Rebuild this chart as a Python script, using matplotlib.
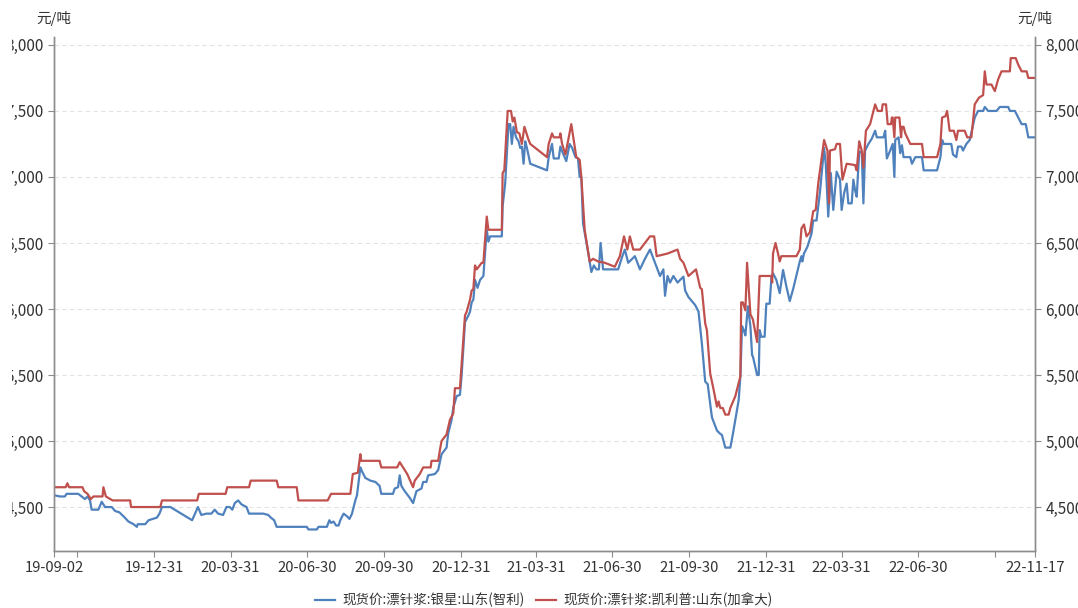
import matplotlib
matplotlib.use('Agg')
import matplotlib.pyplot as plt
import matplotlib.dates as mdates
from matplotlib.patches import Rectangle
from matplotlib.ticker import FuncFormatter
import pandas as pd

# series names
blue_name = '现货价:漂针浆:银星:山东(智利)'
red_name = '现货价:漂针浆:凯利普:山东(加拿大)'

# 银星 (blue), yuan/ton
blue_dates = [
    '2019-09-02', '2019-09-09', '2019-09-15', '2019-09-17', '2019-10-01', '2019-10-05', '2019-10-09', '2019-10-12',
    '2019-10-15', '2019-10-17', '2019-10-25', '2019-10-29', '2019-11-02', '2019-11-10', '2019-11-14', '2019-11-19',
    '2019-11-24', '2019-11-30', '2019-12-06', '2019-12-10', '2019-12-11', '2019-12-20', '2019-12-24', '2020-01-03',
    '2020-01-06', '2020-01-09', '2020-01-19', '2020-02-14', '2020-02-21', '2020-02-25', '2020-03-02', '2020-03-08',
    '2020-03-12', '2020-03-16', '2020-03-22', '2020-03-26', '2020-03-30', '2020-04-02', '2020-04-05', '2020-04-09',
    '2020-04-13', '2020-04-19', '2020-04-22', '2020-05-09', '2020-05-15', '2020-05-18', '2020-05-22', '2020-05-25',
    '2020-06-30', '2020-07-02', '2020-07-12', '2020-07-14', '2020-07-24', '2020-07-27', '2020-07-29', '2020-08-01',
    '2020-08-04', '2020-08-07', '2020-08-09', '2020-08-13', '2020-08-17', '2020-08-20', '2020-08-23', '2020-08-27',
    '2020-08-29', '2020-09-02', '2020-09-04', '2020-09-08', '2020-09-14', '2020-09-20', '2020-09-25', '2020-09-27',
    '2020-10-11', '2020-10-13', '2020-10-17', '2020-10-19', '2020-10-21', '2020-10-25', '2020-10-31', '2020-11-04',
    '2020-11-08', '2020-11-14', '2020-11-16', '2020-11-20', '2020-11-22', '2020-11-30', '2020-12-04', '2020-12-08',
    '2020-12-14', '2020-12-16', '2020-12-20', '2020-12-22', '2020-12-26', '2020-12-30', '2021-01-01', '2021-01-05',
    '2021-01-09', '2021-01-11', '2021-01-13', '2021-01-15', '2021-01-17', '2021-01-20', '2021-01-23', '2021-01-27',
    '2021-01-31', '2021-02-02', '2021-02-04', '2021-02-18', '2021-02-19', '2021-02-22', '2021-02-26', '2021-02-28',
    '2021-03-02', '2021-03-04', '2021-03-07', '2021-03-10', '2021-03-12', '2021-03-14', '2021-03-16', '2021-03-18',
    '2021-03-20', '2021-03-24', '2021-04-13', '2021-04-15', '2021-04-19', '2021-04-21', '2021-04-27', '2021-04-29',
    '2021-05-02', '2021-05-06', '2021-05-10', '2021-05-13', '2021-05-17', '2021-05-20', '2021-05-22', '2021-05-24',
    '2021-05-26', '2021-05-31', '2021-06-05', '2021-06-08', '2021-06-11', '2021-06-14', '2021-06-16', '2021-06-19',
    '2021-07-07', '2021-07-12', '2021-07-15', '2021-07-19', '2021-07-27', '2021-08-02', '2021-08-08', '2021-08-14',
    '2021-08-20', '2021-08-26', '2021-08-30', '2021-09-01', '2021-09-04', '2021-09-07', '2021-09-11', '2021-09-16',
    '2021-09-19', '2021-09-23', '2021-09-25', '2021-09-29', '2021-10-07', '2021-10-11', '2021-10-15', '2021-10-19',
    '2021-10-22', '2021-10-27', '2021-11-02', '2021-11-05', '2021-11-08', '2021-11-12', '2021-11-18', '2021-11-21',
    '2021-11-24', '2021-11-28', '2021-11-30', '2021-12-02', '2021-12-04', '2021-12-06', '2021-12-09', '2021-12-12',
    '2021-12-14', '2021-12-15', '2021-12-20', '2021-12-22', '2021-12-23', '2021-12-25', '2021-12-29', '2021-12-31',
    '2022-01-04', '2022-01-06', '2022-01-08', '2022-01-12', '2022-01-16', '2022-01-20', '2022-01-24', '2022-01-28',
    '2022-02-01', '2022-02-09', '2022-02-11', '2022-02-12', '2022-02-14', '2022-02-18', '2022-02-23', '2022-02-25',
    '2022-03-01', '2022-03-05', '2022-03-10', '2022-03-12', '2022-03-15', '2022-03-18', '2022-03-21', '2022-03-25',
    '2022-03-29', '2022-03-31', '2022-04-03', '2022-04-06', '2022-04-08', '2022-04-12', '2022-04-14', '2022-04-16',
    '2022-04-18', '2022-04-21', '2022-04-24', '2022-04-26', '2022-04-28', '2022-05-02', '2022-05-06', '2022-05-08',
    '2022-05-10', '2022-05-12', '2022-05-20', '2022-05-22', '2022-05-24', '2022-05-28', '2022-05-31', '2022-06-02',
    '2022-06-03', '2022-06-07', '2022-06-09', '2022-06-11', '2022-06-13', '2022-06-21', '2022-06-23', '2022-06-27',
    '2022-07-05', '2022-07-07', '2022-07-23', '2022-07-25', '2022-07-27', '2022-07-29', '2022-07-31', '2022-08-09',
    '2022-08-11', '2022-08-15', '2022-08-17', '2022-08-21', '2022-08-23', '2022-08-27', '2022-08-31', '2022-09-06',
    '2022-09-10', '2022-09-16', '2022-09-18', '2022-09-22', '2022-10-02', '2022-10-06', '2022-10-16', '2022-10-18',
    '2022-10-24', '2022-10-28', '2022-11-01', '2022-11-06', '2022-11-09', '2022-11-17',
]
blue_values = [
    4590, 4580, 4580, 4600, 4600, 4580, 4560, 4580,
    4550, 4480, 4480, 4540, 4500, 4500, 4470, 4460,
    4430, 4390, 4370, 4350, 4370, 4370, 4400, 4420,
    4450, 4500, 4500, 4400, 4500, 4440, 4450, 4450,
    4480, 4450, 4440, 4500, 4500, 4480, 4530, 4550,
    4520, 4500, 4450, 4450, 4440, 4420, 4400, 4350,
    4350, 4330, 4330, 4350, 4350, 4400, 4380, 4390,
    4360, 4360, 4400, 4450, 4430, 4410, 4450, 4550,
    4590, 4800, 4770, 4720, 4700, 4690, 4660, 4600,
    4600, 4640, 4650, 4740, 4660, 4620, 4570, 4530,
    4620, 4640, 4690, 4690, 4740, 4750, 4780, 4900,
    4950, 5060, 5160, 5250, 5340, 5350, 5500, 5900,
    5950, 5980, 6050, 6070, 6220, 6160, 6220, 6250,
    6600, 6510, 6550, 6550, 6780, 6950, 7400, 7400,
    7250, 7380, 7300, 7270, 7220, 7230, 7100, 7270,
    7220, 7100, 7050, 7150, 7250, 7140, 7140, 7230,
    7180, 7120, 7250, 7220, 7150, 7140, 7000, 7000,
    6650, 6470, 6280, 6330, 6300, 6300, 6500, 6300,
    6300, 6400, 6450, 6350, 6400, 6300, 6380, 6450,
    6350, 6250, 6300, 6100, 6250, 6200, 6250, 6200,
    6220, 6245, 6140, 6090, 6030, 5980, 5740, 5450,
    5430, 5180, 5080, 5060, 5045, 4950, 4950, 5050,
    5160, 5310, 5490, 5870, 5840, 5800, 6020, 5870,
    5650, 5640, 5500, 5500, 5840, 5790, 5790, 6040,
    6040, 6230, 6270, 6220, 6120, 6295, 6170, 6060,
    6150, 6360, 6400, 6360, 6420, 6470, 6570, 6670,
    6670, 6880, 7220, 7100, 6700, 7030, 6750, 7040,
    6980, 6750, 6880, 6950, 6800, 6800, 6980, 6900,
    6850, 7190, 7190, 6800, 7200, 7250, 7290, 7320,
    7350, 7300, 7300, 7350, 7140, 7200, 7250, 7000,
    7280, 7300, 7180, 7240, 7150, 7150, 7100, 7150,
    7150, 7050, 7050, 7100, 7150, 7280, 7250, 7250,
    7170, 7150, 7230, 7230, 7200, 7250, 7280, 7450,
    7500, 7500, 7530, 7500, 7500, 7530, 7530, 7500,
    7500, 7450, 7400, 7400, 7300, 7300,
]

# 凯利普 (red), yuan/ton
red_dates = [
    '2019-09-02', '2019-09-16', '2019-09-18', '2019-09-20', '2019-10-06', '2019-10-08', '2019-10-12', '2019-10-16',
    '2019-10-19', '2019-10-30', '2019-10-31', '2019-11-03', '2019-11-11', '2019-12-02', '2019-12-03', '2020-01-07',
    '2020-01-09', '2020-02-20', '2020-02-22', '2020-03-25', '2020-03-27', '2020-04-22', '2020-04-24', '2020-05-25',
    '2020-05-27', '2020-06-18', '2020-06-20', '2020-07-25', '2020-07-29', '2020-08-21', '2020-08-24', '2020-08-30',
    '2020-09-02', '2020-09-03', '2020-09-25', '2020-09-27', '2020-10-16', '2020-10-19', '2020-10-23', '2020-10-28',
    '2020-11-04', '2020-11-06', '2020-11-12', '2020-11-16', '2020-11-25', '2020-11-26', '2020-12-04', '2020-12-06',
    '2020-12-08', '2020-12-14', '2020-12-18', '2020-12-22', '2020-12-24', '2020-12-30', '2021-01-05', '2021-01-07',
    '2021-01-11', '2021-01-13', '2021-01-15', '2021-01-17', '2021-01-19', '2021-01-25', '2021-01-27', '2021-01-31',
    '2021-02-02', '2021-02-18', '2021-02-19', '2021-02-21', '2021-02-25', '2021-03-01', '2021-03-03', '2021-03-05',
    '2021-03-08', '2021-03-11', '2021-03-14', '2021-03-17', '2021-03-22', '2021-03-24', '2021-04-13', '2021-04-15',
    '2021-04-19', '2021-04-21', '2021-04-28', '2021-04-29', '2021-05-01', '2021-05-05', '2021-05-12', '2021-05-18',
    '2021-05-22', '2021-05-24', '2021-05-28', '2021-06-03', '2021-06-07', '2021-06-13', '2021-06-21', '2021-07-03',
    '2021-07-09', '2021-07-14', '2021-07-18', '2021-07-21', '2021-07-25', '2021-08-02', '2021-08-08', '2021-08-14',
    '2021-08-19', '2021-08-22', '2021-09-04', '2021-09-16', '2021-09-19', '2021-09-23', '2021-09-29', '2021-10-08',
    '2021-10-13', '2021-10-15', '2021-10-19', '2021-10-21', '2021-10-25', '2021-10-29', '2021-11-02', '2021-11-04',
    '2021-11-06', '2021-11-09', '2021-11-12', '2021-11-16', '2021-11-18', '2021-11-24', '2021-11-30', '2021-12-01',
    '2021-12-03', '2021-12-06', '2021-12-08', '2021-12-12', '2021-12-15', '2021-12-20', '2021-12-23', '2022-01-06',
    '2022-01-07', '2022-01-08', '2022-01-11', '2022-01-14', '2022-01-16', '2022-01-18', '2022-02-05', '2022-02-09',
    '2022-02-11', '2022-02-14', '2022-02-17', '2022-02-21', '2022-02-25', '2022-02-28', '2022-03-03', '2022-03-10',
    '2022-03-14', '2022-03-16', '2022-03-17', '2022-03-23', '2022-03-25', '2022-03-29', '2022-04-01', '2022-04-06',
    '2022-04-16', '2022-04-18', '2022-04-21', '2022-04-24', '2022-04-26', '2022-04-29', '2022-05-04', '2022-05-08',
    '2022-05-10', '2022-05-13', '2022-05-18', '2022-05-19', '2022-05-23', '2022-05-25', '2022-05-29', '2022-05-30',
    '2022-05-31', '2022-06-02', '2022-06-03', '2022-06-08', '2022-06-10', '2022-06-11', '2022-06-13', '2022-06-15',
    '2022-06-21', '2022-07-05', '2022-07-07', '2022-07-23', '2022-07-27', '2022-07-29', '2022-08-02', '2022-08-04',
    '2022-08-07', '2022-08-12', '2022-08-15', '2022-08-17', '2022-08-25', '2022-08-28', '2022-09-02', '2022-09-06',
    '2022-09-11', '2022-09-16', '2022-09-18', '2022-09-20', '2022-09-26', '2022-09-30', '2022-10-04', '2022-10-08',
    '2022-10-18', '2022-10-19', '2022-10-25', '2022-10-28', '2022-11-01', '2022-11-07', '2022-11-09', '2022-11-17',
]
red_values = [
    4650, 4650, 4680, 4650, 4650, 4620, 4600, 4560,
    4580, 4580, 4650, 4580, 4550, 4550, 4500, 4500,
    4550, 4550, 4600, 4600, 4650, 4650, 4700, 4700,
    4650, 4650, 4550, 4550, 4600, 4600, 4750, 4760,
    4900, 4850, 4850, 4800, 4800, 4840, 4800, 4750,
    4650, 4700, 4750, 4800, 4800, 4850, 4850, 4930,
    5000, 5050, 5160, 5210, 5400, 5400, 5950, 5980,
    6070, 6140, 6150, 6330, 6300, 6350, 6350, 6700,
    6600, 6600, 7030, 7050, 7500, 7500, 7420, 7450,
    7340, 7330, 7250, 7380, 7280, 7250, 7150, 7250,
    7330, 7300, 7300, 7330, 7250, 7170, 7400, 7150,
    7130, 7000, 6600, 6360, 6380, 6360, 6350, 6320,
    6400, 6550, 6450, 6550, 6450, 6450, 6500, 6550,
    6550, 6400, 6420, 6450, 6380, 6350, 6250, 6300,
    6160, 6150, 5890, 5840, 5510, 5390, 5260, 5300,
    5250, 5250, 5200, 5200, 5250, 5340, 5490, 6050,
    6050, 5990, 6350, 5960, 5920, 5750, 6250, 6250,
    6200, 6420, 6500, 6420, 6360, 6400, 6400, 6450,
    6610, 6640, 6550, 6580, 6740, 6750, 6950, 7280,
    7200, 6800, 7200, 7210, 7250, 7250, 6980, 7100,
    7090, 7050, 7270, 7200, 7070, 7350, 7400, 7500,
    7550, 7500, 7500, 7550, 7550, 7400, 7400, 7450,
    7450, 7300, 7450, 7450, 7300, 7380, 7380, 7330,
    7250, 7250, 7150, 7150, 7250, 7450, 7460, 7500,
    7350, 7350, 7280, 7350, 7350, 7300, 7300, 7550,
    7600, 7620, 7800, 7700, 7700, 7650, 7740, 7800,
    7800, 7900, 7900, 7850, 7800, 7800, 7750, 7750,
]

# x ticks: start, quarter ends, end
tick_dates = ['2019-09-02', '2019-09-30', '2019-12-31', '2020-03-31', '2020-06-30', '2020-09-30',
              '2020-12-31', '2021-03-31', '2021-06-30', '2021-09-30', '2021-12-31', '2022-03-31',
              '2022-06-30', '2022-09-30', '2022-11-17']
tick_labels = ['19-09-02', '', '19-12-31', '20-03-31', '20-06-30', '20-09-30',
               '20-12-31', '21-03-31', '21-06-30', '21-09-30', '21-12-31', '22-03-31',
               '22-06-30', '', '22-11-17']
y_ticks = [4500, 5000, 5500, 6000, 6500, 7000, 7500, 8000]

plt.rcParams['font.family'] = ['Noto Sans CJK SC', 'DejaVu Sans']
text_color = '#333333'
axis_color = '#8c8c8c'

fig = plt.figure(figsize=(10.78, 6.08), dpi=100)
ax = fig.add_axes([54 / 1078, 1 - 551 / 608, (1035 - 54) / 1078, (551 - 37) / 608])

ax.plot(pd.to_datetime(blue_dates), blue_values, color='#4F81BD', lw=1.6, label=blue_name)
ax.plot(pd.to_datetime(red_dates), red_values, color='#C0504D', lw=1.6, label=red_name)

ax.set_xlim(pd.Timestamp('2019-09-02'), pd.Timestamp('2022-11-17'))
ax.set_ylim(4167, 8060)
ax.set_xticks(pd.to_datetime(tick_dates))
ax.set_xticklabels(tick_labels)
ax.set_yticks(y_ticks)
fmt = FuncFormatter(lambda v, p: f'{int(v):,}')
ax.yaxis.set_major_formatter(fmt)
ax.grid(axis='y', color='#e3e3e3', ls=(0, (4, 3)), lw=0.8)
ax.set_axisbelow(True)

ax2 = ax.twinx()
ax2.set_ylim(ax.get_ylim())
ax2.set_yticks(y_ticks)
ax2.yaxis.set_major_formatter(fmt)

for a in (ax, ax2):
    a.spines['top'].set_visible(False)
    for s in ('left', 'right', 'bottom'):
        a.spines[s].set_color(axis_color)
        a.spines[s].set_linewidth(1.0)
    a.tick_params(direction='out', length=4.5, width=0.8, color=axis_color,
                  labelcolor=text_color, pad=3)
    a.tick_params(axis='y', labelsize=11)
ax.tick_params(axis='x', labelsize=10.7)

fig.text(54 / 1078, 1 - 19 / 608, '元/吨', ha='center', va='center', fontsize=10.5, color=text_color)
fig.text(1035 / 1078, 1 - 19 / 608, '元/吨', ha='center', va='center', fontsize=10.5, color=text_color)

fig.legend(loc='center', bbox_to_anchor=(544 / 1078, 1 - 600 / 608), ncol=2, frameon=False,
           fontsize=9.7, handlelength=1.5, handletextpad=0.55, columnspacing=0.8, labelcolor=text_color)

# the source picture is cropped at the left edge
fig.add_artist(Rectangle((0, 0), 12 / 1078, 1, transform=fig.transFigure,
                         facecolor='white', edgecolor='none', zorder=10))

fig.savefig('out.png', dpi=100)
